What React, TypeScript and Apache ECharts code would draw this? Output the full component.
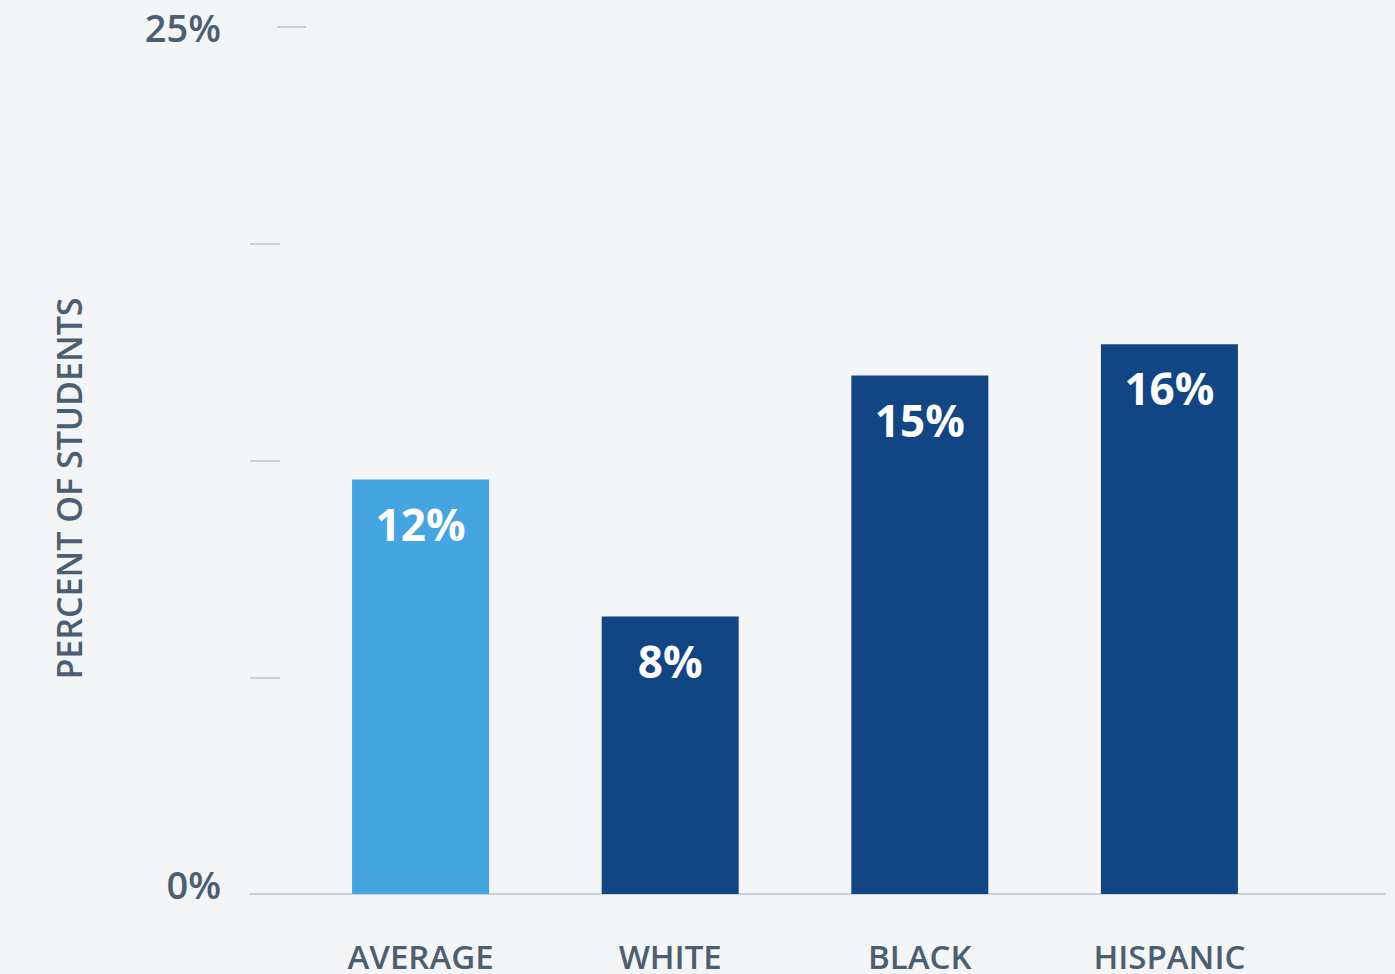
import React, { useEffect, useRef } from "react";
import * as echarts from "echarts";

const categories = ["AVERAGE", "WHITE", "BLACK", "HISPANIC"];
const values = [11.95, 8.0, 14.95, 15.85];
const barColors = ["#45a5e0", "#124584", "#124584", "#124584"];
const yTicks = [6.25, 12.5, 18.75];
const yLabelValues = [0, 25];
const axisName = "PERCENT OF STUDENTS";

const FONT = "'Open Sans', 'Noto Sans', sans-serif";
const TEXT = "#4b5e72";
const LINE = "#c8d1da";

export default function App() {
  const ref = useRef<HTMLDivElement>(null);
  useEffect(() => {
    const chart = echarts.init(ref.current!, null, { renderer: "svg" });
    chart.setOption({
      animation: false,
      backgroundColor: "#f4f5f7",
      grid: [
        { left: 295.75, right: 100.75, top: 27, bottom: 80 },
        { left: 250, right: 10, top: 27, bottom: 80 },
      ],
      xAxis: [
        {
          type: "category",
          gridIndex: 0,
          data: categories,
          axisLine: { show: false },
          axisTick: { show: false },
          axisLabel: {
            margin: 46,
            fontSize: 33,
            fontFamily: FONT,
            color: TEXT,
            fontWeight: 600,
          },
        },
        {
          type: "value",
          gridIndex: 1,
          min: 0,
          max: 1,
          axisLine: { show: true, lineStyle: { color: LINE, width: 2 } },
          axisTick: { show: false },
          axisLabel: { show: false },
          splitLine: { show: false },
        },
      ],
      yAxis: [
        {
          type: "value",
          gridIndex: 0,
          min: 0,
          max: 25,
          interval: 6.25,
          offset: 15.75,
          axisLine: { show: false },
          splitLine: { show: false },
          axisTick: {
            show: true,
            length: 30,
            customValues: yTicks,
            lineStyle: { color: LINE, width: 2 },
          },
          axisLabel: {
            margin: 59,
            customValues: yLabelValues,
            formatter: (v: number) => (v === 0 ? "{z|" + v + "%}" : "{t|" + v + "%}"),
            rich: {
              z: { fontSize: 38, fontWeight: 600, fontFamily: FONT, color: TEXT, padding: [0, 0, 20, 0] },
              t: { fontSize: 38, fontWeight: 600, fontFamily: FONT, color: TEXT },
            },
          },
        },
        {
          type: "value",
          gridIndex: 0,
          min: 0,
          max: 25,
          interval: 6.25,
          offset: -10.25,
          position: "left",
          axisLine: { show: false },
          splitLine: { show: false },
          axisLabel: { show: false },
          axisTick: {
            show: true,
            length: 29,
            customValues: [25],
            lineStyle: { color: LINE, width: 2 },
          },
        },
        {
          type: "value",
          gridIndex: 1,
          show: false,
        },
      ],
      graphic: [
        {
          type: "text",
          x: 68.5,
          y: 488.5,
          rotation: Math.PI / 2,
          style: {
            text: axisName,
            fontSize: 34,
            fontWeight: 600,
            fontFamily: FONT,
            fill: TEXT,
            align: "center",
            verticalAlign: "middle",
          },
        },
      ],
      series: [
        {
          type: "bar",
          xAxisIndex: 0,
          yAxisIndex: 0,
          barWidth: 137,
          data: values.map((v, i) => ({ value: v, itemStyle: { color: barColors[i] } })),
          label: {
            show: true,
            position: "insideTop",
            distance: 22,
            formatter: (p: any) => Math.round(p.value) + "%",
            color: "#ffffff",
            fontSize: 44,
            fontWeight: "bold",
            fontFamily: FONT,
          },
        },
      ],
    });
    return () => chart.dispose();
  }, []);
  return (
    <div
      ref={ref}
      style={{ position: "absolute", left: 0, top: 0, width: 1395, height: 974 }}
    />
  );
}
